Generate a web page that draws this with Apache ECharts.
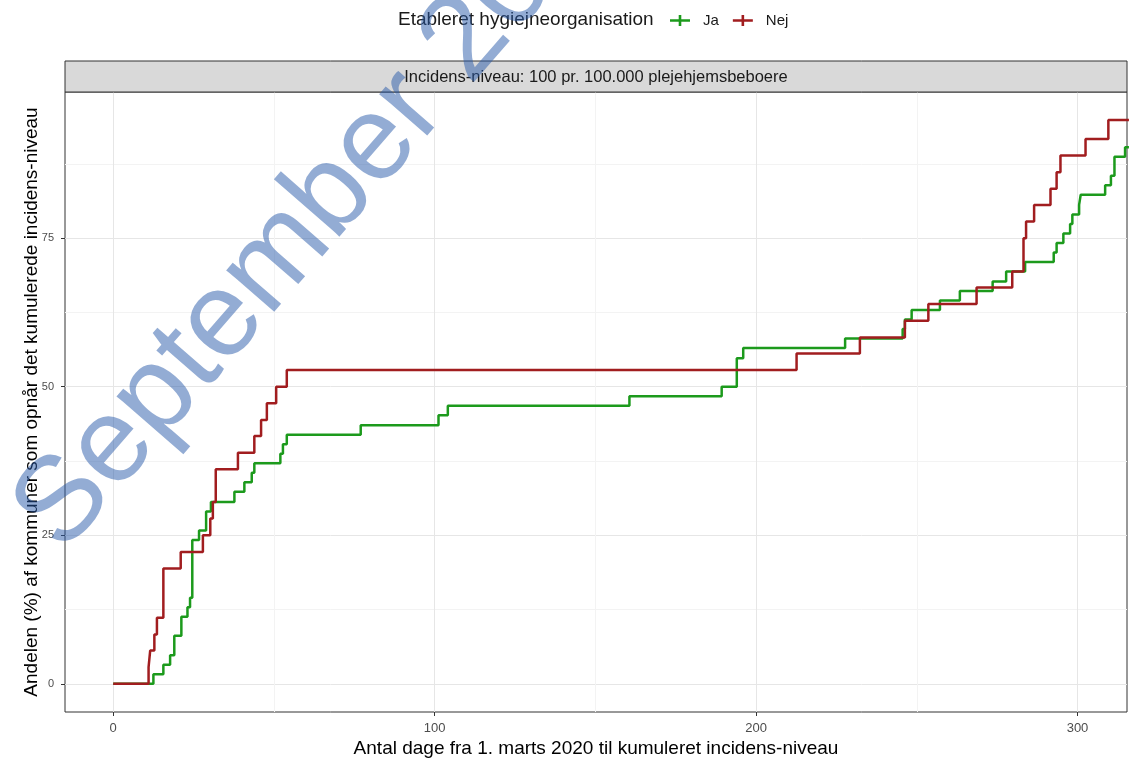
<!DOCTYPE html>
<html>
<head>
<meta charset="utf-8">
<script src="https://cdn.jsdelivr.net/npm/echarts@6/dist/echarts.min.js"></script>
<style>
  html, body { margin: 0; padding: 0; background: #fff; }
  #main { width: 1131px; height: 761px; }
</style>
</head>
<body>
<div id="main"></div>
<script>
// step data: day when the level is reached, percent of kommuner after the step
var jaDays = [0, 12.5, 15.6, 17.7, 19, 21.2, 23.1, 23.9, 24.6, 26.7,
  28.9, 30.4, 37.7, 40.8, 43.1, 43.9, 52, 52.8, 54, 77,
  101.2, 104.1, 160.6, 189.3, 194, 196, 227.7, 245.6, 246.3, 248.4,
  257.2, 263.4, 273.6, 277.8, 283.7, 292.6, 293.5, 295.6, 297.7, 298.4,
  300.5, 301, 308.6, 310.4, 311.5, 314.8, 316];
var jaPct = [0, 1.6, 3.2, 4.8, 8.1, 11.3, 12.9, 14.5, 24.2, 25.8,
  29.0, 30.6, 32.3, 33.9, 35.5, 37.1, 38.7, 40.3, 41.9, 43.5,
  45.2, 46.8, 48.4, 50.0, 54.8, 56.5, 58.1, 59.7, 61.3, 62.9,
  64.5, 66.1, 67.7, 69.4, 71.0, 72.6, 74.2, 75.8, 77.4, 79.0,
  80.6, 82.3, 83.9, 85.5, 88.7, 90.3, 90.3];

var nejDays = [0, 11, 11.5, 12.8, 13.6, 15.6, 21, 27.9, 30.2, 31,
  31.9, 38.8, 43.9, 46, 47.8, 50.7, 54, 212.6, 232.3, 246.3,
  253.6, 268.6, 279.7, 283.2, 284, 286.5, 291.6, 293.5, 294.7, 302.5,
  309.6, 316];
var nejPct = [0, 2.8, 5.6, 8.3, 11.1, 19.4, 22.2, 25.0, 27.8, 30.6,
  36.1, 38.9, 41.7, 44.4, 47.2, 50.0, 52.8, 55.6, 58.3, 61.1,
  63.9, 66.7, 69.4, 75.0, 77.8, 80.6, 83.3, 86.1, 88.9, 91.7,
  94.9, 94.9];

var xMajor = [0, 100, 200, 300];
var xMinor = [50, 150, 250];
var yMajor = [0, 25, 50, 75];
var yMinor = [12.5, 37.5, 62.5, 87.5];

var groupNames = ['Ja', 'Nej'];
var groupColors = ['#1c9a1c', '#a11d1f'];

var FONT = '"Liberation Sans", Arial, sans-serif';
var PLUS = 'path://M0,4.2L20,4.2L20,6.8L0,6.8Z M8.7,0L11.3,0L11.3,11L8.7,11Z';

function pairs(xs, ys) {
  var out = [];
  for (var i = 0; i < xs.length; i++) out.push([xs[i], ys[i]]);
  return out;
}

var chart = echarts.init(document.getElementById('main'));

var option = {
  animation: false,
  backgroundColor: '#fff',
  textStyle: { fontFamily: FONT },
  grid: {
    left: 65, right: 4, top: 92, bottom: 49,
    show: true, borderColor: '#333', borderWidth: 1, backgroundColor: '#fff',
    outerBoundsMode: 'none'
  },
  legend: {
    left: 665, top: 8,
    itemWidth: 20, itemHeight: 11, itemGap: 14,
    selectedMode: false,
    textStyle: { fontSize: 15, color: '#1a1a1a', fontFamily: FONT, padding: [0, 0, 0, 8] },
    data: [
      { name: 'Ja', icon: PLUS },
      { name: 'Nej', icon: PLUS }
    ]
  },
  xAxis: [{
    type: 'value', min: -15, max: 315.4,
    name: 'Antal dage fra 1. marts 2020 til kumuleret incidens-niveau',
    nameLocation: 'middle', nameGap: 27, nameMoveOverlap: false,
    nameTextStyle: { fontSize: 19, color: '#000', fontFamily: FONT },
    axisLine: { show: false, onZero: false },
    axisTick: { show: true, length: 4, lineStyle: { color: '#333' }, customValues: xMajor },
    axisLabel: { customValues: xMajor, fontSize: 13, color: '#4d4d4d', margin: 10, fontFamily: FONT },
    splitLine: { show: true, lineStyle: { color: '#e6e6e6', width: 1 } }
  }, {
    type: 'value', min: -15, max: 315.4, position: 'bottom',
    axisLine: { show: false, onZero: false },
    axisTick: { show: false, customValues: xMinor },
    axisLabel: { show: false, customValues: xMinor },
    splitLine: { show: true, lineStyle: { color: '#f3f3f3', width: 1 } }
  }],
  yAxis: [{
    type: 'value', min: -4.75, max: 99.6,
    name: 'Andelen (%) af kommuner som opnår det kumulerede incidens-niveau',
    nameLocation: 'middle', nameGap: 24, nameRotate: 90, nameMoveOverlap: false,
    nameTextStyle: { fontSize: 19, color: '#000', fontFamily: FONT },
    axisLine: { show: false, onZero: false },
    axisTick: { show: true, length: 4, lineStyle: { color: '#333' }, customValues: yMajor },
    axisLabel: { customValues: yMajor, fontSize: 11, color: '#4d4d4d', margin: 11, fontFamily: FONT },
    splitLine: { show: true, lineStyle: { color: '#e6e6e6', width: 1 } }
  }, {
    type: 'value', min: -4.75, max: 99.6, position: 'left',
    axisLine: { show: false, onZero: false },
    axisTick: { show: false, customValues: yMinor },
    axisLabel: { show: false, customValues: yMinor },
    splitLine: { show: true, lineStyle: { color: '#f3f3f3', width: 1 } }
  }],
  series: [{
    name: groupNames[0], type: 'line', step: 'end',
    xAxisIndex: 0, yAxisIndex: 0,
    data: pairs(jaDays, jaPct),
    showSymbol: false, symbol: 'none',
    color: groupColors[0],
    lineStyle: { width: 2.5, color: groupColors[0] },
    z: 3
  }, {
    name: groupNames[1], type: 'line', step: 'end',
    xAxisIndex: 0, yAxisIndex: 0,
    data: pairs(nejDays, nejPct),
    showSymbol: false, symbol: 'none',
    color: groupColors[1],
    lineStyle: { width: 2.5, color: groupColors[1] },
    z: 4
  }],
  graphic: [
    {
      type: 'text', left: 398, top: 10,
      style: { text: 'Etableret hygiejneorganisation', font: '19px ' + FONT, fill: '#1a1a1a' }
    },
    {
      type: 'rect', shape: { x: 65, y: 61, width: 1062, height: 31 },
      style: { fill: '#d9d9d9', stroke: '#333', lineWidth: 1 }, z: 10
    },
    {
      type: 'text', x: 596, y: 77, z: 11,
      style: {
        text: 'Incidens-niveau: 100 pr. 100.000 plejehjemsbeboere',
        font: '16.5px ' + FONT, fill: '#1a1a1a', align: 'center', verticalAlign: 'middle'
      }
    },
    {
      // watermark
      type: 'text', x: 38, y: 533, rotation: 49 * Math.PI / 180, z: 100, silent: true,
      style: {
        text: 'September 2020',
        font: '120px ' + FONT, fill: 'rgba(40,90,170,0.5)',
        align: 'left', verticalAlign: 'middle'
      }
    }
  ]
};

chart.setOption(option);
</script>
</body>
</html>
